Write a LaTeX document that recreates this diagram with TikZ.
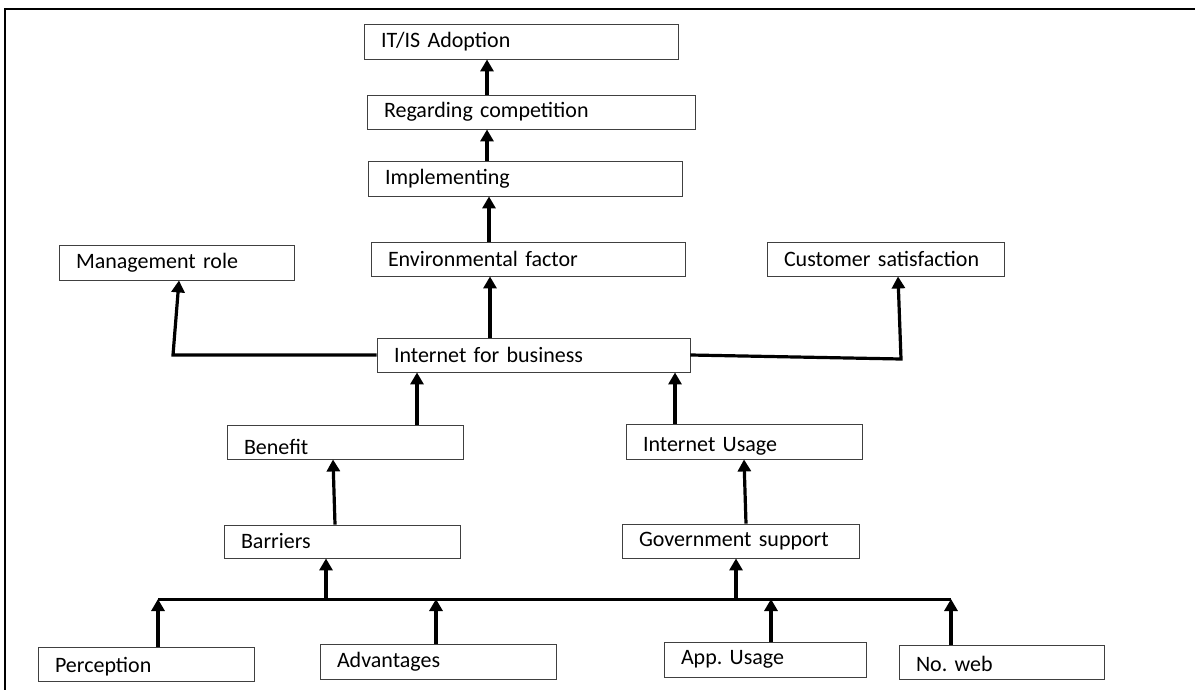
\documentclass[tikz,border=0pt]{standalone}
\usepackage{fontspec}
\setmainfont{Carlito}
\usetikzlibrary{arrows.meta}
\begin{document}
\frenchspacing
\begin{tikzpicture}[x=1pt,y=-1pt,
  bx/.style={draw=black!75,line width=0.9pt,rectangle,inner sep=0pt,
    font=\fontsize{22}{26}\selectfont\frenchspacing,align=left},
  arr/.style={line width=3.2pt,-{Triangle[length=12pt,width=13pt]}},
  ln/.style={line width=3pt}]
\useasboundingbox (0,0) rectangle (1195,690);
\draw[line width=1.8pt] (5,700) -- (5,9) -- (1200,9);
\newcommand{\bxn}[6]{\node[bx,minimum width=#4pt,minimum height=#5pt,text width=#4pt-34pt] (#1) at (#2,#3) {#6};}
\newcommand{\lowr}[2]{\raisebox{-#1}[\height][\depth]{#2}}
\bxn{it}{521}{41.5}{314}{35}{IT/IS Adoption}
\bxn{reg}{531}{112}{328}{34}{Regarding competition}
\bxn{impl}{525}{178.5}{314}{35}{Implementing}
\bxn{env}{528}{259}{314}{34}{Environmental factor}
\bxn{mgmt}{176.5}{262.5}{235}{35}{Management role}
\bxn{cust}{885.5}{259}{237}{34}{Customer satisfaction}
\bxn{ifb}{533.5}{355}{313}{34}{Internet for business}
\bxn{ben}{345}{442}{236}{34}{\lowr{5pt}{Benefit}}
\bxn{iu}{744}{441.5}{236}{35}{\lowr{5pt}{Internet Usage}}
\bxn{bar}{342}{541.5}{236}{33}{Barriers}
\bxn{gov}{740.5}{541}{237}{34}{Government support}
\bxn{per}{146}{664}{216}{34}{\lowr{3pt}{Perception}}
\bxn{adv}{438}{661.5}{236}{35}{Advantages}
\bxn{app}{765}{659.5}{202}{35}{App. Usage}
\bxn{web}{1001.5}{662}{205}{34}{\lowr{2pt}{No. web}}
\coordinate (ml) at (173,355);
\coordinate (cr) at (901,359);
\coordinate (bl) at (158,599);
\coordinate (br) at (951,599);
\coordinate (jbar) at (326,599);
\coordinate (jgov) at (736,599);
\coordinate (jadv) at (436,599);
\coordinate (japp) at (771,599);
\draw[arr] ([xshift=-44pt]reg.north) -- ([xshift=-34pt]it.south);
\draw[arr] ([xshift=-38pt]impl.north) -- ([xshift=-44pt]reg.south);
\draw[arr] ([xshift=-39pt]env.north) -- ([xshift=-36pt]impl.south);
\draw[arr] ([xshift=-43.5pt]ifb.north) -- ([xshift=-38pt]env.south);
\draw[arr] (ifb.west) -- (ml) -- ([xshift=2.5pt]mgmt.south);
\draw[arr] (ifb.east) -- (cr) -- ([xshift=12.5pt]cust.south);
\draw[arr] ([xshift=72pt]ben.north) -- ([xshift=-116.5pt]ifb.south);
\draw[arr] ([xshift=-69pt]iu.north) -- ([xshift=141.5pt]ifb.south);
\draw[arr] ([xshift=-7pt]bar.north) -- ([xshift=-12pt]ben.south);
\draw[arr] ([xshift=5.5pt]gov.north) -- (iu.south);
\draw[ln] (bl) -- (br);
\draw[arr] (jbar) -- ([xshift=-16pt]bar.south);
\draw[arr] (jgov) -- ([xshift=-4.5pt]gov.south);
\draw[arr] ([xshift=12pt]per.north) -- (bl);
\draw[arr] ([xshift=-2pt]adv.north) -- (jadv);
\draw[arr] ([xshift=6pt]app.north) -- (japp);
\draw[arr] ([xshift=-50.5pt]web.north) -- (br);
\end{tikzpicture}
\end{document}
